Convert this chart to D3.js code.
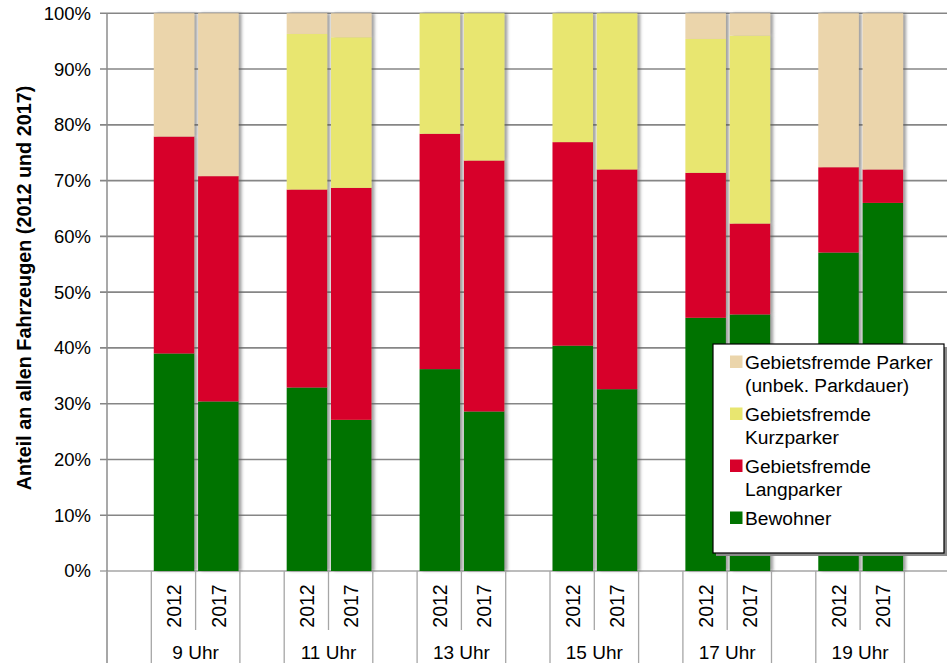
<!DOCTYPE html>
<html>
<head>
<meta charset="utf-8">
<script src="https://cdn.jsdelivr.net/npm/d3@7"></script>
<style>
  body { margin: 0; background: #fff; }
  svg { display: block; font-family: "Liberation Sans", Arial, sans-serif; }
</style>
</head>
<body>
<svg></svg>
<script>
// Stacked 100% columns: parking share by hour, 2012 vs 2017

const hours = ["9 Uhr", "11 Uhr", "13 Uhr", "15 Uhr", "17 Uhr", "19 Uhr"];
const years = ["2012", "2017"];

// one value per column, order: 9 Uhr 2012, 9 Uhr 2017, 11 Uhr 2012, ...
const bewohner   = [39.0, 30.4, 32.9, 27.1, 36.2, 28.6, 40.4, 32.6, 45.4, 46.0, 57.1, 66.0];
const langparker = [38.9, 40.4, 35.5, 41.6, 42.2, 45.0, 36.5, 39.4, 26.0, 16.3, 15.3, 6.0];
const kurzparker = [0.0, 0.0, 27.9, 27.0, 21.6, 26.4, 23.1, 28.0, 24.0, 33.7, 0.0, 0.0];
const unbekannt  = [22.1, 29.2, 3.7, 4.3, 0.0, 0.0, 0.0, 0.0, 4.6, 4.0, 27.6, 28.0];

const seriesKeys = ["bewohner", "lang", "kurz", "unbek"];
const seriesLabels = {
  unbek: ["Gebietsfremde Parker", "(unbek. Parkdauer)"],
  kurz: ["Gebietsfremde", "Kurzparker"],
  lang: ["Gebietsfremde", "Langparker"],
  bewohner: ["Bewohner"]
};
const colors = { bewohner: "#007300", lang: "#d7002a", kurz: "#e8e670", unbek: "#ebd5ab" };

const yTicks = d3.range(0, 101, 10);

const width = 947, height = 663;
const svg = d3.select("svg").attr("width", width).attr("height", height);

const defs = svg.append("defs");
const sh = defs.append("filter").attr("id", "shadow")
    .attr("x", "-20%").attr("y", "-5%").attr("width", "160%").attr("height", "110%");
sh.append("feDropShadow").attr("dx", 3).attr("dy", 0).attr("stdDeviation", 1.6)
    .attr("flood-color", "#555").attr("flood-opacity", 0.55);

// rows for the stack
const rows = [];
hours.forEach((h, i) => years.forEach((yr, j) => {
  const k = i * 2 + j;
  rows.push({ key: h + "|" + yr, hour: h, year: yr,
    bewohner: bewohner[k], lang: langparker[k], kurz: kurzparker[k], unbek: unbekannt[k] });
}));

// slots: empty gap before each hour group, plus one at the end
const slots = [];
hours.forEach((h, i) => { slots.push("gap" + i); years.forEach(yr => slots.push(h + "|" + yr)); });
slots.push("gapEnd");

const x = d3.scaleBand().domain(slots).range([107, 948.7]).padding(0);
const y = d3.scaleLinear().domain([0, 100]).range([571, 13.3]);

// gridlines
svg.append("g")
  .selectAll("line").data(yTicks).join("line")
    .attr("x1", 100).attr("x2", width)
    .attr("y1", d => y(d)).attr("y2", d => y(d))
    .attr("stroke", d => d === 0 ? "#a6a6a6" : "#868686")
    .attr("stroke-width", 1.6);

// y axis line
svg.append("line")
  .attr("x1", 107).attr("x2", 107).attr("y1", y(100)).attr("y2", height)
  .attr("stroke", "#8c8c8c").attr("stroke-width", 1.5);

// y tick labels
svg.append("g")
  .selectAll("text").data(yTicks).join("text")
    .attr("x", 91).attr("y", d => y(d))
    .attr("dy", "0.35em")
    .attr("text-anchor", "end")
    .attr("font-size", 18.5)
    .attr("fill", "#000")
    .text(d => d + "%");

// y title
svg.append("text")
  .attr("transform", `translate(31,288) rotate(-90)`)
  .attr("text-anchor", "middle")
  .attr("font-size", 19.8)
  .attr("font-weight", "bold")
  .text("Anteil an allen Fahrzeugen (2012 und 2017)");

// stacked bars
const stack = d3.stack().keys(seriesKeys);
const stacked = stack(rows);
const bw = x.bandwidth() * 0.915;

const barLayer = svg.append("g").attr("filter", "url(#shadow)");
barLayer.selectAll("g").data(stacked).join("g")
    .attr("fill", d => colors[d.key])
  .selectAll("rect").data(d => d).join("rect")
    .attr("x", d => x(d.data.key) + (x.bandwidth() - bw) / 2 + 0.6)
    .attr("width", bw)
    .attr("y", d => y(d[1]))
    .attr("height", d => y(d[0]) - y(d[1]));

// category separators below the axis
const sepG = svg.append("g").attr("stroke", "#a6a6a6").attr("stroke-width", 1.3);
slots.forEach(s => {
  const is2017 = s.endsWith("|2017");
  sepG.append("line")
    .attr("x1", x(s)).attr("x2", x(s))
    .attr("y1", y(0)).attr("y2", is2017 ? 630 : height);
});

// year labels (rotated)
svg.append("g")
  .selectAll("text").data(rows).join("text")
    .attr("transform", d => `translate(${x(d.key) + x.bandwidth() / 2 + 1},606) rotate(-90)`)
    .attr("text-anchor", "middle")
    .attr("dy", "0.35em")
    .attr("font-size", 19.5)
    .text(d => d.year);

// hour labels
svg.append("g")
  .selectAll("text").data(hours).join("text")
    .attr("x", d => x(d + "|2017"))
    .attr("y", 659)
    .attr("text-anchor", "middle")
    .attr("font-size", 19)
    .text(d => d);

// legend
const lg = svg.append("g");
lg.append("rect")
  .attr("x", 716).attr("y", 347).attr("width", 231).attr("height", 209)
  .attr("fill", "#8a8a8a");
lg.append("rect")
  .attr("x", 713).attr("y", 344).attr("width", 231).attr("height", 209)
  .attr("fill", "#fff").attr("stroke", "#000").attr("stroke-width", 1.2);

const legendOrder = ["unbek", "kurz", "lang", "bewohner"];
legendOrder.forEach((k, i) => {
  const y0 = 362 + i * 52;
  lg.append("rect")
    .attr("x", 730).attr("y", y0 - 6.5).attr("width", 12.5).attr("height", 12.5)
    .attr("fill", colors[k]);
  seriesLabels[k].forEach((line, j) => {
    lg.append("text")
      .attr("x", 745).attr("y", y0 + j * 23.5)
      .attr("dy", "0.35em")
      .attr("font-size", 19.2)
      .text(line);
  });
});
</script>
</body>
</html>
